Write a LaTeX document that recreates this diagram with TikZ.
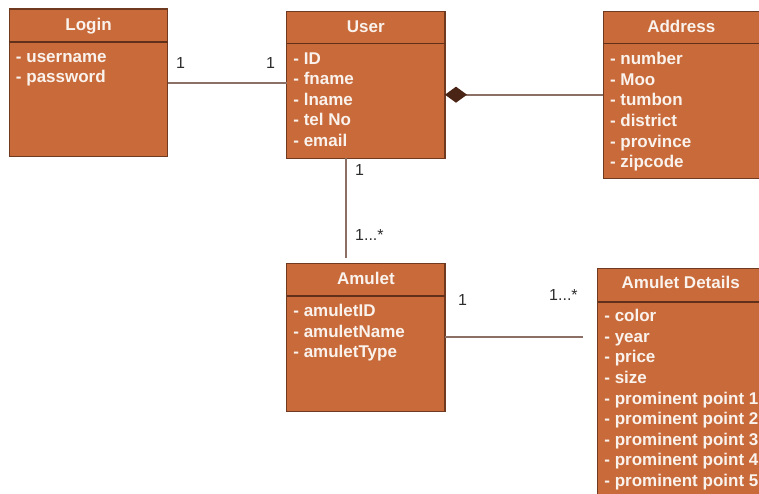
\documentclass[tikz,border=0pt]{standalone}
\usepackage{fontspec}
\setmainfont{Liberation Sans}
\usetikzlibrary{arrows.meta}
\definecolor{boxfill}{RGB}{200,106,58}
\definecolor{boxline}{RGB}{112,58,32}
\definecolor{sepline}{RGB}{96,48,26}
\definecolor{linkcol}{RGB}{140,112,102}
\definecolor{diamcol}{RGB}{74,36,20}
\definecolor{lbl}{RGB}{45,45,45}
\definecolor{txt}{RGB}{250,242,236}
\begin{document}
\begin{tikzpicture}[x=1pt,y=-1pt,
  box/.style={draw=boxline, line width=1.3pt, fill=boxfill, rectangle, inner sep=0pt, outer sep=0pt, anchor=north west},
  sepbar/.style={draw=sepline, line width=1.8pt},
  title/.style={font=\fontsize{17}{20}\selectfont\bfseries, text=txt, inner sep=0pt, anchor=base},
  attr/.style={font=\fontsize{17}{20}\selectfont\bfseries, text=txt, inner sep=0pt, anchor=base west},
  link/.style={draw=linkcol, line width=1.7pt},
  mult/.style={font=\fontsize{16}{19}\selectfont, text=lbl, inner sep=0pt, anchor=base west}]
\fill[white] (0,0) rectangle (759,494);
\clip (0,0) rectangle (759,494);

% boxes
\node[box, minimum width=158.4pt, minimum height=147.7pt] (login) at (9.3,9) {};
\node[box, minimum width=158.3pt, minimum height=146.6pt] (user) at (286.7,11.7) {};
\node[box, minimum width=156pt, minimum height=166.6pt] (address) at (603.3,11.7) {};
\node[box, minimum width=158.3pt, minimum height=148.4pt] (amulet) at (286.7,263.3) {};
\node[box, minimum width=166pt, minimum height=240pt] (details) at (597.7,268.3) {};

% header separators
\draw[sepbar] ([yshift=-32.7pt]login.north west) -- ([yshift=-32.7pt]login.north east);
\draw[sepbar] ([yshift=-31.8pt]user.north west) -- ([yshift=-31.8pt]user.north east);
\draw[sepbar] ([yshift=-31.8pt]address.north west) -- ([yshift=-31.8pt]address.north east);
\draw[sepbar] ([yshift=-32.4pt]amulet.north west) -- ([yshift=-32.4pt]amulet.north east);
\draw[sepbar] ([yshift=-33.4pt]details.north west) -- ([yshift=-33.4pt]details.north east);

% titles
\node[title] (login-t) at ([yshift=-21.5pt]login.north) {Login};
\node[title] (user-t) at ([yshift=-20.5pt]user.north) {User};
\node[title] (address-t) at ([yshift=-20.5pt]address.north) {Address};
\node[title] (amulet-t) at ([yshift=-21.5pt]amulet.north) {Amulet};
\node[title] (details-t) at ([yshift=-20.5pt]details.north) {Amulet Details};

% attributes
\foreach \t [count=\i] in {username,password}
  \node[attr] (login-\i) at ([xshift=6.5pt,yshift={-53.4pt-20.6pt*(\i-1)}]login.north west) {- \t};
\foreach \t [count=\i] in {ID,fname,lname,tel No,email}
  \node[attr] (user-\i) at ([xshift=6.5pt,yshift={-52.4pt-20.6pt*(\i-1)}]user.north west) {- \t};
\foreach \t [count=\i] in {number,Moo,tumbon,district,province,zipcode}
  \node[attr] (address-\i) at ([xshift=6.5pt,yshift={-53pt-20.6pt*(\i-1)}]address.north west) {- \t};
\foreach \t [count=\i] in {amuletID,amuletName,amuletType}
  \node[attr] (amulet-\i) at ([xshift=6.5pt,yshift={-53.4pt-20.6pt*(\i-1)}]amulet.north west) {- \t};
\foreach \t [count=\i] in {color,year,price,size,prominent point 1,prominent point 2,prominent point 3,prominent point 4,prominent point 5}
  \node[attr] (details-\i) at ([xshift=6.5pt,yshift={-53.4pt-20.6pt*(\i-1)}]details.north west) {- \t};

% connectors
\draw[link] ([yshift=-74pt]login.north east) -- ([yshift=-71.3pt]user.north west);
\draw[link, -{Diamond[length=22pt 0 0, width=16pt 0, fill=diamcol, color=diamcol]}]
  ([yshift=-83pt]address.north west) -- ([yshift=-83pt]user.north east);
\draw[link] ([xshift=-20pt]user.south) -- ([xshift=-20pt,yshift=5.3pt]amulet.north);
\coordinate (detailsend) at ([xshift=-14.7pt,yshift=-68.7pt]details.north west);
\draw[link] ([yshift=-73.7pt]amulet.north east) -- (detailsend);

% multiplicities
\node[mult] (m1) at (176,69) {1};
\node[mult] (m2) at (266,69) {1};
\node[mult] (m3) at (355,175.7) {1};
\node[mult] (m4) at (355,240) {1...*};
\node[mult] (m5) at (458,305.7) {1};
\node[mult] (m6) at (549,300.7) {1...*};
\end{tikzpicture}
\end{document}
